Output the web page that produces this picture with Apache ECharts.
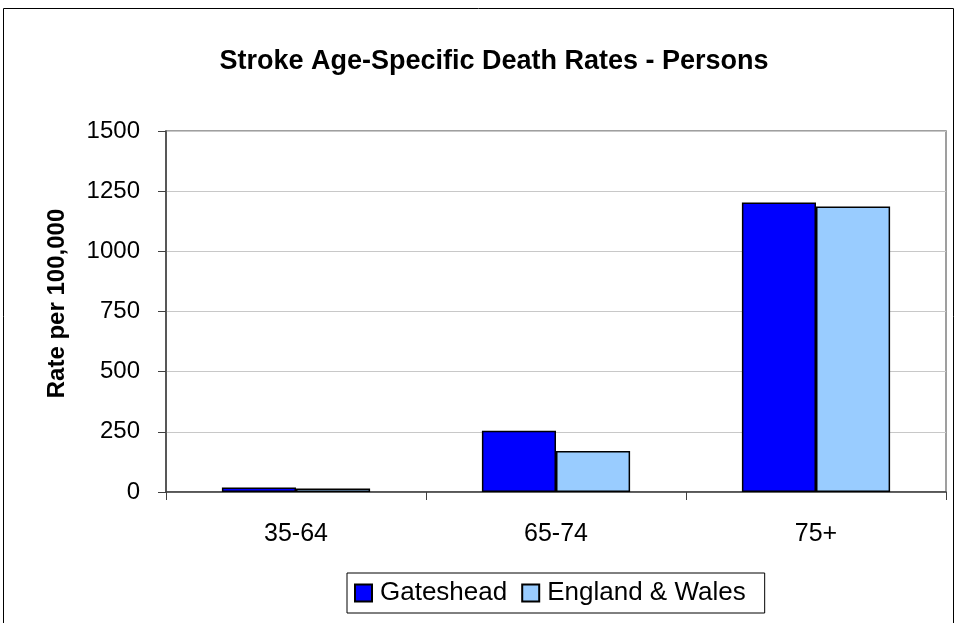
<!DOCTYPE html>
<html lang="en">
    <head>
        <meta charset="UTF-8" />
        <title>Stroke Age-Specific Death Rates</title>
        <script src="https://cdn.jsdelivr.net/npm/echarts@6/dist/echarts.min.js"></script>
        <style>
            body,
            html {
                margin: 0;
                padding: 0;
                width: 100%;
                height: 100%;
                overflow: hidden;
                background-color: #fff;
            }
            #main {
                width: 959px;
                height: 623px;
            }
        </style>
    </head>
    <body>
        <div id="main"></div>
        <script>
            const ageGroups = ["35-64", "65-74", "75+"]
            const gateshead = [19, 254, 1203]
            const englandWales = [15, 170, 1186]
            const yTicks = { min: 0, max: 1500, interval: 250 }

            const font = "'Liberation Sans', Arial, sans-serif"
            const chart = echarts.init(document.getElementById("main"))

            const option = {
                animation: false,
                backgroundColor: "#fff",
                textStyle: { fontFamily: font },
                graphic: [
                    {
                        // outer chart frame
                        type: "rect",
                        shape: { x: 3.5, y: 8.5, width: 950, height: 640 },
                        style: { fill: "none", stroke: "#000", lineWidth: 1 },
                        silent: true,
                    },
                ],
                title: {
                    text: "Stroke Age-Specific Death Rates - Persons",
                    left: 489,
                    textAlign: "center",
                    top: 43,
                    textStyle: { fontFamily: font, fontSize: 27, fontWeight: "bold", color: "#000" },
                },
                legend: {
                    data: ["Gateshead", "England & Wales"],
                    left: 347,
                    top: 573,
                    icon: "rect",
                    itemWidth: 17,
                    itemHeight: 17,
                    itemGap: 14,
                    borderColor: "#000",
                    borderWidth: 1,
                    padding: [7, 19, 7, 7],
                    textStyle: { fontFamily: font, fontSize: 26, color: "#000", padding: [0, 0, 0, 3] },
                },
                grid: {
                    left: 166,
                    top: 131,
                    right: 13,
                    bottom: 131,
                    show: true,
                    borderColor: "#808080",
                    borderWidth: 1.5,
                },
                xAxis: {
                    type: "category",
                    data: ageGroups,
                    axisLine: { lineStyle: { color: "#404040", width: 1.5 } },
                    axisTick: { show: true, length: 8, lineStyle: { color: "#404040" } },
                    axisLabel: { fontFamily: font, fontSize: 25, color: "#000", margin: 30 },
                },
                yAxis: {
                    type: "value",
                    min: yTicks.min,
                    max: yTicks.max,
                    interval: yTicks.interval,
                    name: "Rate per 100,000",
                    nameLocation: "middle",
                    nameGap: 97,
                    nameTextStyle: {
                        fontFamily: font,
                        fontSize: 24,
                        fontWeight: "bold",
                        color: "#000",
                        padding: [0, 0, 0, 16],
                    },
                    axisLine: { show: true, lineStyle: { color: "#404040", width: 1.5 } },
                    axisTick: { show: true, length: 8, lineStyle: { color: "#404040" } },
                    axisLabel: {
                        fontFamily: font,
                        fontSize: 24,
                        color: "#000",
                        margin: 26,
                        formatter: (v) => String(v),
                    },
                    splitLine: { lineStyle: { color: "#c8c8c8", width: 1 } },
                },
                series: [
                    {
                        name: "Gateshead",
                        type: "bar",
                        data: gateshead,
                        barGap: "0%",
                        barCategoryGap: "43%",
                        itemStyle: { color: "#0000ff", borderColor: "#000", borderWidth: 1.5 },
                    },
                    {
                        name: "England & Wales",
                        type: "bar",
                        data: englandWales,
                        itemStyle: { color: "#99ccff", borderColor: "#000", borderWidth: 1.5 },
                    },
                ],
            }

            chart.setOption(option)
        </script>
    </body>
</html>
